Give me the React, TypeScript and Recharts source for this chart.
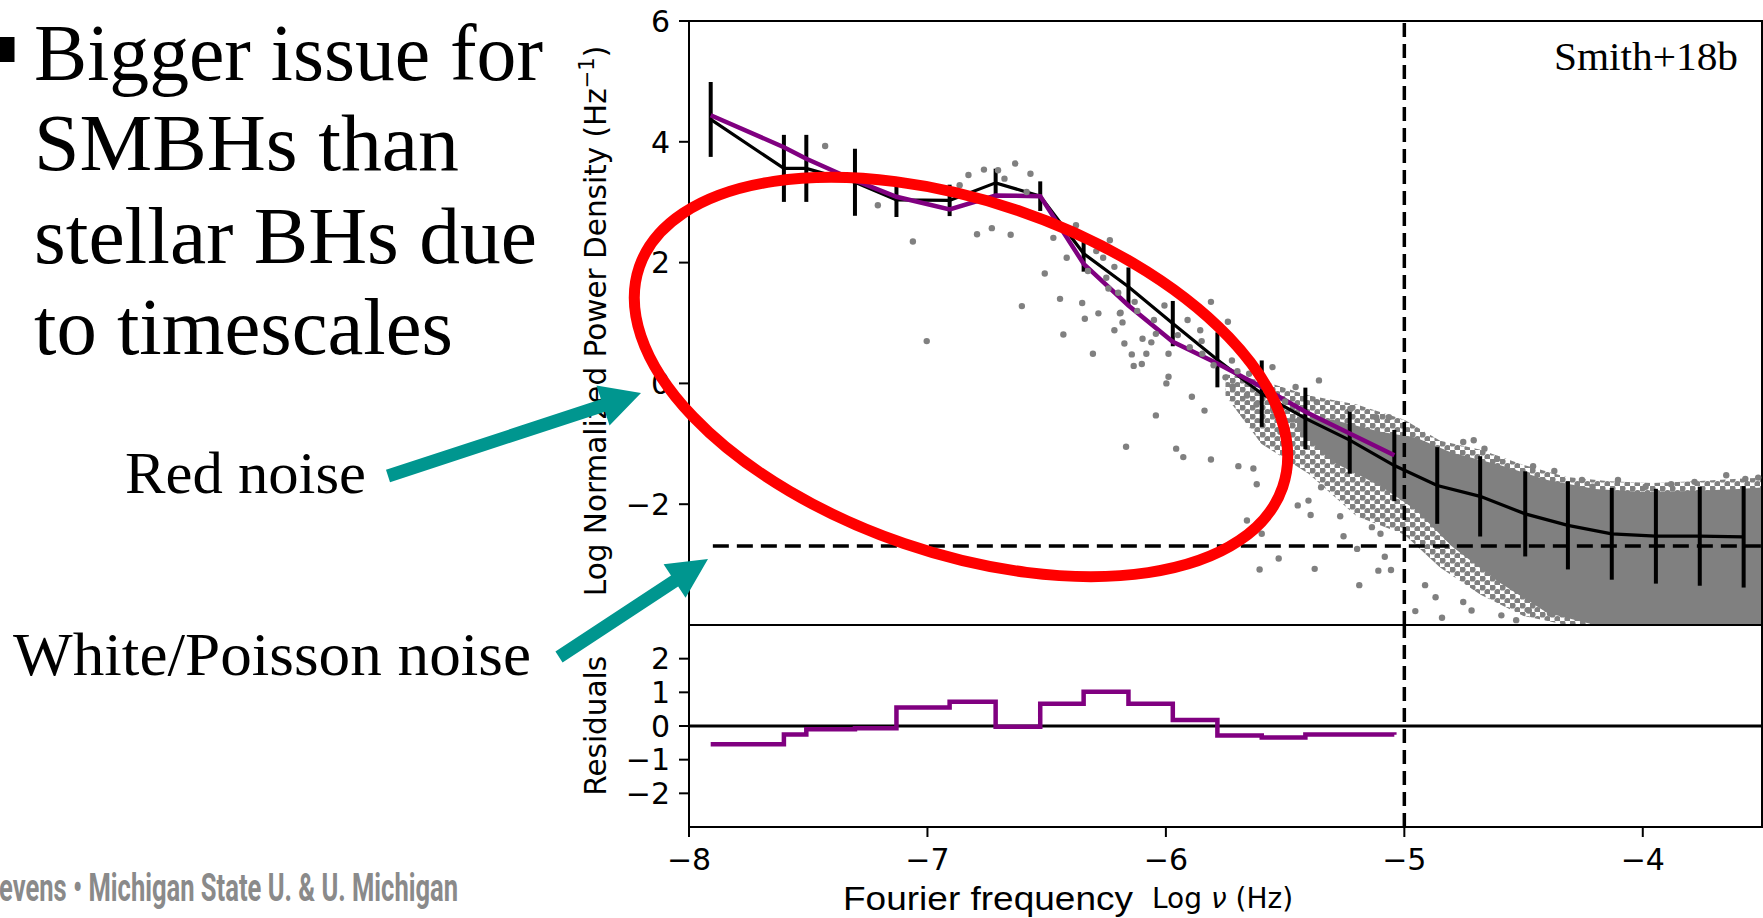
import React from "react";
import {
  Area,
  ComposedChart,
  ErrorBar,
  Line,
  ReferenceArea,
  ReferenceLine,
  Scatter,
  XAxis,
  YAxis,
} from "recharts";

// Binned periodogram (black line with error bars)
const binX = [
  -7.909, -7.602, -7.508, -7.304, -7.13, -6.907, -6.714, -6.527, -6.345, -6.157, -5.971, -5.784,
  -5.598, -5.415, -5.229, -5.042, -4.862, -4.682, -4.493, -4.314, -4.13, -3.945, -3.761, -3.577,
];
const binY = [
  4.37, 3.56, 3.56, 3.33, 3.04, 3.03, 3.32, 3.1, 2.15, 1.6, 0.99, 0.39,
  -0.17, -0.58, -0.94, -1.36, -1.69, -1.87, -2.16, -2.35, -2.49, -2.53, -2.53, -2.54,
];
const binErr = [
  0.62, 0.555, 0.555, 0.555, 0.285, 0.26, 0.235, 0.245, 0.3, 0.32, 0.375, 0.455,
  0.55, 0.51, 0.555, 0.59, 0.635, 0.665, 0.705, 0.73, 0.76, 0.785, 0.82, 0.84,
];

// Model (purple) and residuals, first 16 bins
const modelY = [4.44, 3.91, 3.72, 3.36, 3.09, 2.88, 3.11, 3.1, 1.98, 1.29, 0.69, 0.33, -0.06, -0.47, -0.83, -1.19];
const residY = [-0.54, -0.25, -0.1, -0.07, 0.55, 0.72, -0.02, 0.66, 1.02, 0.66, 0.18, -0.28, -0.34, -0.25, -0.25, -0.26];

// Individual periodogram points (grey)
const ptX = [
  -7.429, -7.208, -7.061, -7.003, -6.828, -6.763, -6.704, -6.632, -6.568, -6.865, -6.792, -6.73, -6.651, -6.677,
  -6.584, -6.604, -6.508, -6.472, -6.444, -6.43, -6.416, -6.377, -6.351, -6.34, -6.327, -6.306, -6.283, -6.263,
  -6.235, -6.216, -6.19, -6.182, -6.174, -6.143, -6.135, -6.098, -6.082, -6.101, -6.061, -6.216, -6.292, -6.241,
  -6.193, -6.131, -6.042, -6.006, -5.989, -5.909, -5.856, -5.847, -5.811, -5.74, -5.723, -5.687, -5.651, -5.989,
  -5.998, -5.891, -5.838, -6.042, -5.553, -5.456, -5.358, -5.367, -5.225, -5.118, -5.065, -6.167, -5.957, -5.927,
  -5.811, -5.696, -5.66, -5.633, -5.619, -5.607, -5.598, -5.527, -5.447, -5.402, -5.393, -5.376, -5.349, -5.269,
  -5.255, -5.198, -5.189, -5.136, -5.109, -5.1, -5.056, -5.082, -4.954, -4.913, -4.869, -4.842, -4.753, -4.709,
  -4.718, -4.753, -4.664, -4.611, -4.593, -4.46, -4.371, -4.255, -4.104, -3.988, -3.881, -3.783, -3.65, -3.57,
  -3.516, -4.211, -4.478, -4.531, -4.389, -6.25, -6.2, -6.12, -6.05, -5.95, -5.9, -5.85, -5.8, -5.75,
  -5.7, -5.72, -5.66, -5.62, -5.58, -5.55, -5.5, -5.52, -5.47,
];
const ptY = [
  3.93, 2.95, 2.35, 0.7, 3.45, 3.54, 3.53, 3.64, 3.47, 3.28, 2.47, 2.57, 2.46, 3.39,
  3.17, 1.28, 1.82, 2.41, 1.4, 0.81, 2.08, 2.62, 1.33, 1.07, 1.86, 0.49, 1.16, 2.08,
  2.37, 0.88, 1.17, 1.01, 0.66, 0.48, 0.29, 0.74, 0.49, 0.32, 0.68, 1.93, 2.19, 1.57,
  1.16, 1.35, 0.82, 1.29, 0.49, 1.05, 0.88, 0.49, 1.35, 1.02, 0.38, 0.58, 0.16, 0.11,
  0.0, -0.22, -0.45, -0.53, 0.27, -0.06, 0.05, -0.31, -0.42, -0.56, -0.56, -1.05, -1.08, -1.22,
  -1.26, -1.37, -2.27, -1.41, -1.67, -3.08, -2.49, -2.9, -2.02, -1.94, -2.18, -3.07, -1.72, -2.2,
  -2.53, -2.74, -3.34, -2.38, -3.1, -2.49, -3.09, -2.87, -3.77, -3.34, -3.54, -3.88, -0.97, -0.94,
  -3.76, -3.62, -1.08, -1.25, -3.84, -1.37, -1.45, -1.6, -1.6, -1.71, -1.67, -1.63, -1.52, -1.58,
  -1.56, -1.71, -3.76, -3.92, -3.81, 1.75, 1.5, 1.2, 1.05, 0.8, 0.6, 0.7, 0.3, 0.1,
  0.2, -0.05, -0.2, -0.35, -0.1, -0.45, -0.3, -0.8, -0.6,
];

// Where the points pile up into a cloud (halo = dotted, core = solid)
const haloX = [-5.75, -5.6, -5.4, -5.2, -5.0, -4.85, -4.68, -4.5, -4.32, -4.14, -3.96, -3.78, -3.6, -3.49];
const haloHi = [0.15, 0.05, -0.2, -0.35, -0.6, -0.95, -1.1, -1.35, -1.55, -1.62, -1.65, -1.62, -1.58, -1.56];
const haloLo = [-0.2, -1.0, -1.5, -2.2, -2.5, -3.05, -3.5, -3.85, -4, -4, -4, -4, -4, -4];
const coreX = [-5.45, -5.3, -5.1, -4.95, -4.8, -4.6, -4.4, -4.2, -4.0, -3.8, -3.6, -3.49];
const coreHi = [-0.55, -0.6, -0.8, -0.9, -1.15, -1.35, -1.6, -1.75, -1.8, -1.78, -1.75, -1.72];
const coreLo = [-0.75, -1.3, -1.7, -2.1, -2.7, -3.3, -3.8, -4, -4, -4, -4, -4];

const whiteLevel = -2.69;
const breakFreq = -5;
const xDomain = [-8, -3.5];
const xTicks = [-8, -7, -6, -5, -4];
const mainTicks = [-4, -2, 0, 2, 4, 6];
const residTicks = [-2, -1, 0, 1, 2];

const binned = binX.map((x, i) => ({ x, y: binY[i], err: binErr[i] }));
const model = binX.slice(0, modelY.length).map((x, i) => ({ x, m: modelY[i] }));
const resid = binX.slice(0, residY.length).map((x, i) => ({ x, r: residY[i] }));
const points = ptX.map((x, i) => ({ x, y: ptY[i] }));
const halo = haloX.map((x, i) => ({ x, lo: haloLo[i], hi: haloHi[i] }));
const core = coreX.map((x, i) => ({ x, lo: coreLo[i], hi: coreHi[i] }));

const minus = (v: number) => String(v).replace("-", "\u2212");
const axisStroke = { stroke: "#000", strokeWidth: 2 };
const GREY = "#808080";
const PURPLE = "#800080";
const TEAL = "#00968f";
const TICK_FONT = 30;
const LABEL_FONT = 29.5;

const YTick = (p: any) => (
  <text x={p.x} y={p.y} dy="0.36em" textAnchor="end" fontFamily="DejaVu Sans" fontSize={TICK_FONT} fill="#000">
    {minus(p.payload.value)}
  </text>
);
const XTick = (p: any) => (
  <text x={p.x} y={p.y} dy="0.74em" textAnchor="middle" fontFamily="DejaVu Sans" fontSize={TICK_FONT} fill="#000">
    {minus(p.payload.value)}
  </text>
);

function arrowPoints(x0: number, y0: number, x1: number, y1: number, shaft: number, headLen: number, headW: number) {
  const len = Math.hypot(x1 - x0, y1 - y0);
  const ux = (x1 - x0) / len;
  const uy = (y1 - y0) / len;
  const nx = -uy;
  const ny = ux;
  const bx = x1 - ux * headLen;
  const by = y1 - uy * headLen;
  const pts = [
    [x0 + (nx * shaft) / 2, y0 + (ny * shaft) / 2],
    [bx + (nx * shaft) / 2, by + (ny * shaft) / 2],
    [bx + (nx * headW) / 2, by + (ny * headW) / 2],
    [x1, y1],
    [bx - (nx * headW) / 2, by - (ny * headW) / 2],
    [bx - (nx * shaft) / 2, by - (ny * shaft) / 2],
    [x0 - (nx * shaft) / 2, y0 - (ny * shaft) / 2],
  ];
  return pts.map((p) => p.join(",")).join(" ");
}

const dot = (p: any) => <circle cx={p.cx} cy={p.cy} r={3.2} fill={GREY} />;

export default function App() {
  return (
    <div style={{ position: "absolute", left: 0, top: 0, width: 1763, height: 918, background: "#fff", overflow: "hidden" }}>
      {/* dot texture for the point cloud */}
      <svg width={0} height={0} style={{ position: "absolute" }}>
        <defs>
          <pattern id="cloudDots" width={10} height={9} patternUnits="userSpaceOnUse">
            <circle cx={2.5} cy={2.5} r={3.1} fill={GREY} />
            <circle cx={7.5} cy={7} r={3.1} fill={GREY} />
          </pattern>
        </defs>
      </svg>

      {/* main panel */}
      <div style={{ position: "absolute", left: 0, top: 0 }}>
        <ComposedChart width={1763} height={626} margin={{ top: 21, right: 1, bottom: 1, left: 0 }}>
          <XAxis type="number" dataKey="x" domain={xDomain} allowDataOverflow hide />
          <YAxis
            type="number"
            domain={[-4, 6]}
            ticks={mainTicks}
            allowDataOverflow
            width={689}
            tick={YTick}
            tickLine={axisStroke}
            axisLine={axisStroke}
            tickSize={10}
            tickMargin={9}
          />
          <Area data={halo} dataKey={(d: any) => [d.lo, d.hi]} type="linear" stroke="none" fill="url(#cloudDots)" fillOpacity={1} isAnimationActive={false} />
          <Area data={core} dataKey={(d: any) => [d.lo, d.hi]} type="linear" stroke="none" fill={GREY} fillOpacity={1} isAnimationActive={false} />
          <Scatter data={points} dataKey="y" shape={dot} isAnimationActive={false} />
          <ReferenceLine
            segment={[{ x: -7.9, y: whiteLevel }, { x: -3.5, y: whiteLevel }]}
            stroke="#000"
            strokeWidth={3.5}
            strokeDasharray="16 8"
          />
          <ReferenceLine x={breakFreq} stroke="#000" strokeWidth={3.5} strokeDasharray="14 7" />
          <Line data={binned} dataKey="y" type="linear" stroke="#000" strokeWidth={3.2} dot={false} isAnimationActive={false}>
            <ErrorBar dataKey="err" width={0} stroke="#000" strokeWidth={4} direction="y" />
          </Line>
          <Line data={model} dataKey="m" type="linear" stroke={PURPLE} strokeWidth={4.5} dot={false} isAnimationActive={false} />
          <ReferenceArea x1={-8} x2={-3.5} y1={-4} y2={6} fill="none" stroke="#000" strokeWidth={2} ifOverflow="visible" />
        </ComposedChart>
      </div>

      {/* residual panel */}
      <div style={{ position: "absolute", left: 0, top: 600 }}>
        <ComposedChart width={1763} height={318} margin={{ top: 25, right: 1, bottom: 0, left: 0 }}>
          <XAxis
            type="number"
            dataKey="x"
            domain={xDomain}
            ticks={xTicks}
            allowDataOverflow
            height={91}
            tick={XTick}
            tickLine={axisStroke}
            axisLine={axisStroke}
            tickSize={10}
            tickMargin={11}
          />
          <YAxis
            type="number"
            domain={[-3, 3]}
            ticks={residTicks}
            allowDataOverflow
            width={689}
            tick={YTick}
            tickLine={axisStroke}
            axisLine={axisStroke}
            tickSize={10}
            tickMargin={9}
          />
          <ReferenceLine y={0} stroke="#000" strokeWidth={3} />
          <ReferenceLine x={breakFreq} stroke="#000" strokeWidth={3.5} strokeDasharray="14 7" />
          <Line data={resid} dataKey="r" type="stepAfter" stroke={PURPLE} strokeWidth={4.5} dot={false} isAnimationActive={false} />
          <ReferenceArea x1={-8} x2={-3.5} y1={-3} y2={3} fill="none" stroke="#000" strokeWidth={2} ifOverflow="visible" />
        </ComposedChart>
      </div>

      {/* slide text and annotations */}
      <svg width={1763} height={918} style={{ position: "absolute", left: 0, top: 0, pointerEvents: "none" }}>
        <text x={1554} y={70} fontFamily="Liberation Serif" fontSize={40} textLength={184} lengthAdjust="spacingAndGlyphs">
          Smith+18b
        </text>
        <g fontFamily="DejaVu Sans" fontSize={LABEL_FONT} fill="#000">
          <text transform="translate(606,321) rotate(-90)" textAnchor="middle">
            Log Normalized Power Density (Hz
            <tspan fontSize={21} dy={-12}>{"\u22121"}</tspan>
            <tspan dy={12}>)</tspan>
          </text>
          <text transform="translate(606,725.8) rotate(-90)" textAnchor="middle">
            Residuals
          </text>
          <text x={1152} y={908} fontSize={28}>
            Log <tspan fontStyle="italic">ν</tspan> (Hz)
          </text>
        </g>
        <text x={843} y={910} fontFamily="Liberation Sans" fontSize={34} textLength={290} lengthAdjust="spacingAndGlyphs">
          Fourier frequency
        </text>

        <rect x={-11} y={37} width={25.5} height={25} fill="#000" />
        <g fontFamily="Liberation Serif" fontSize={80} fill="#000">
          <text x={34} y={80} textLength={509} lengthAdjust="spacingAndGlyphs">Bigger issue for</text>
          <text x={34} y={170} textLength={425} lengthAdjust="spacingAndGlyphs">SMBHs than</text>
          <text x={34} y={263} textLength={503} lengthAdjust="spacingAndGlyphs">stellar BHs due</text>
          <text x={34} y={354} textLength={419} lengthAdjust="spacingAndGlyphs">to timescales</text>
        </g>
        <text x={125} y={493} fontFamily="Liberation Serif" fontSize={60} textLength={241} lengthAdjust="spacingAndGlyphs">
          Red noise
        </text>
        <text x={13} y={675} fontFamily="Liberation Serif" fontSize={62} textLength={518} lengthAdjust="spacingAndGlyphs">
          White/Poisson noise
        </text>
        <text x={-1} y={901} fontFamily="Roboto" fontWeight="bold" fontSize={38} fill="#8a8a8a" textLength={459} lengthAdjust="spacingAndGlyphs">
          evens • Michigan State U. &amp; U. Michigan
        </text>

        <ellipse cx={961} cy={377} rx={340} ry={176} transform="rotate(18.9 961 377)" fill="none" stroke="#ff0000" strokeWidth={11} />
        <polygon points={arrowPoints(388, 476, 641, 393, 13, 40, 42)} fill={TEAL} />
        <polygon points={arrowPoints(559, 657, 708, 559, 13, 40, 40)} fill={TEAL} />
      </svg>
    </div>
  );
}
